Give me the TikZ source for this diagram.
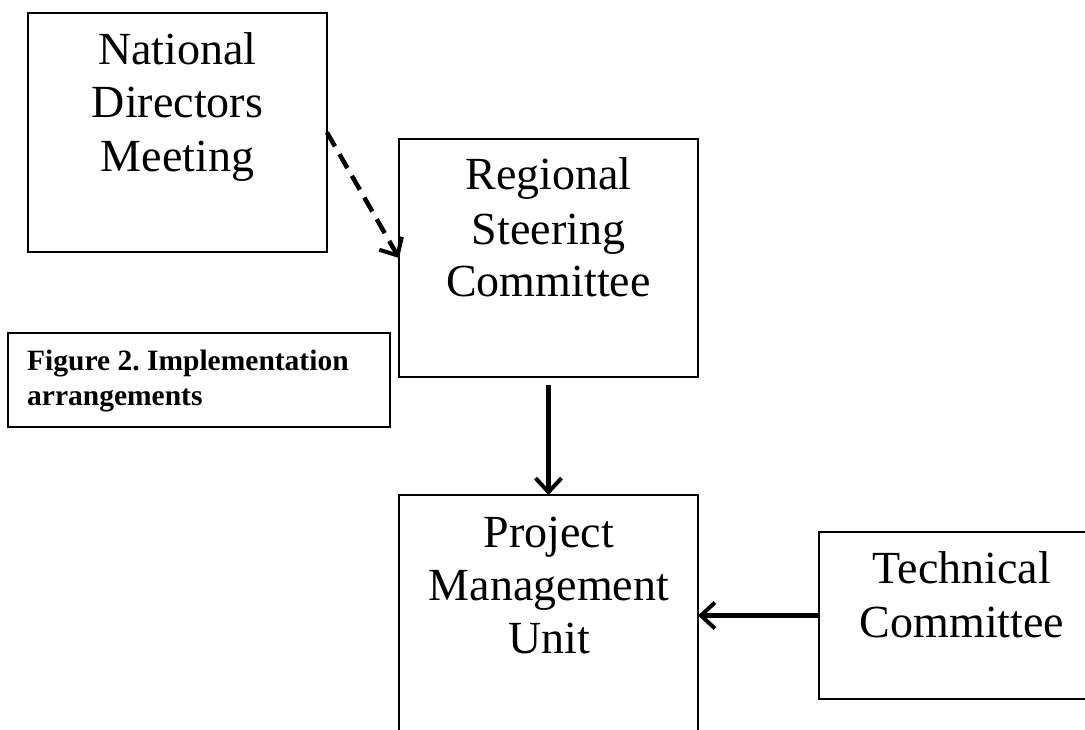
\documentclass[tikz,border=0pt]{standalone}
\usepackage{fontspec}
\setmainfont{Liberation Serif}
\usetikzlibrary{arrows.meta}
\frenchspacing
\begin{document}
\begin{tikzpicture}[x=1pt,y=-1pt,
  box/.style={draw, line width=1.6pt, inner sep=0pt, outer sep=0pt},
  capbox/.style={draw, line width=1.1pt, inner sep=0pt, outer sep=0pt},
  lbl/.style={anchor=base, inner sep=0pt, font=\fontsize{46}{53}\selectfont},
  caplbl/.style={anchor=base west, inner sep=0pt, font=\fontsize{29.5}{35}\selectfont\bfseries},
  conn/.style={line width=4.5pt, -{Straight Barb[length=14pt,width=26pt,line width=4pt]}}
]
\useasboundingbox (0,0) rectangle (1085,730);
\clip (0,0) rectangle (1085,730);
\fill[white] (0,0) rectangle (1085,730);

% boxes
\node[box, minimum width=299pt, minimum height=239pt] (ndm) at (177.5,132.5) {};
\node[box, minimum width=299pt, minimum height=238pt] (rsc) at (548.5,258) {};
\node[box, minimum width=299pt, minimum height=280pt] (pmu) at (548.5,635) {};
\node[box, minimum width=290pt, minimum height=167pt] (tc) at (964,615.5) {};
\node[capbox, minimum width=382pt, minimum height=94pt] (cap) at (199,380) {};

% texts
\node[lbl] (ndm1) at (177.5,65) {National};
\node[lbl] (ndm2) at (177.5,118) {Directors};
\node[lbl] (ndm3) at (177.5,172) {Meeting};

\node[lbl] (rsc1) at (548.5,190) {Regional};
\node[lbl] (rsc2) at (548.5,245) {Steering};
\node[lbl] (rsc3) at (548.5,297) {Committee};

\node[lbl] (pmu1) at (549,547) {Project};
\node[lbl] (pmu2) at (549,600) {Management};
\node[lbl] (pmu3) at (549,653) {Unit};

\node[lbl] (tc1) at (962,583) {Technical};
\node[lbl] (tc2) at (962,637) {Committee};

\node[caplbl] (cap1) at (27,370) {Figure 2. Implementation};
\node[caplbl] (cap2) at (27,405) {arrangements};

% connectors
\draw[conn, dash pattern=on 16pt off 9pt] (ndm.east) -- (rsc.west);
\draw[conn, shorten <=8pt] (rsc.south) -- (pmu.north);
\draw[conn] (tc.west) -- (tc.west -| pmu.east);
\end{tikzpicture}
\end{document}
